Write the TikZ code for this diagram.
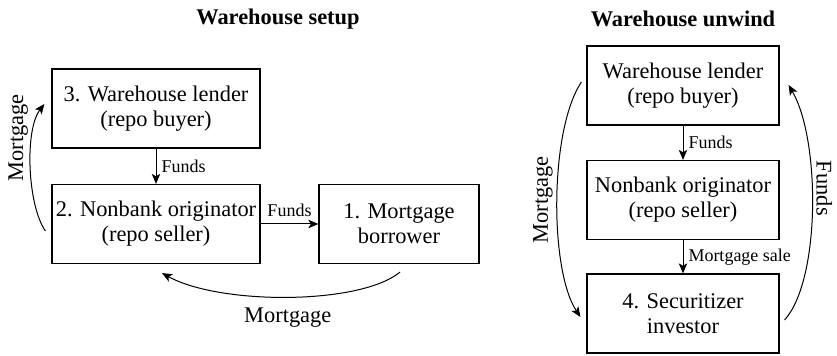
\documentclass[tikz,border=0pt]{standalone}
\usepackage{fontspec}
\setmainfont{Liberation Serif}
\usetikzlibrary{arrows.meta,calc}

\tikzset{
  box/.style={draw, line width=0.6pt, align=center, minimum height=39.5pt,
    inner sep=1.5pt, font=\fontsize{11.2}{12.5}\selectfont},
  flow/.style={-{Stealth[length=5pt,width=4.2pt,inset=1.2pt]}, line width=0.5pt},
  lbl/.style={font=\fontsize{9}{10.8}\selectfont, inner sep=2.5pt},
  biglbl/.style={font=\fontsize{11.2}{13}\selectfont, inner sep=2pt},
  ttl/.style={font=\fontsize{11.2}{13}\selectfont\bfseries},
}

\begin{document}
\begin{tikzpicture}[x=0.5pt,y=0.5pt]
\useasboundingbox (0,0) rectangle (837,-356);

% LEFT: warehouse setup
\node[ttl] (tsetup) at (278,-19) {Warehouse setup};
\node[box, minimum width=104pt] (lender) at (156,-108.5) {3. Warehouse lender\\(repo buyer)};
\node[box, minimum width=104pt] (orig) at (156,-224) {2. Nonbank originator\\(repo seller)};
\node[box, minimum width=80pt] (borrower) at (399,-224) {1. Mortgage\\borrower};

\draw[flow] (lender) -- node[lbl, right] {Funds} (orig);
\draw[flow] (orig) -- node[lbl, above=1pt] {Funds} (borrower);

% mortgage goes back from borrower to originator, then up to lender
\draw[flow] ($(borrower.south)+(1,-8)$)
  .. controls +(-40,-33) and +(58,-32) .. ($(orig.south)+(6,-9)$)
  node[biglbl, pos=0.5, below=3pt] {Mortgage};
\draw[flow] ($(orig.west)+(-6,-7)$)
  .. controls +(-18,26) and +(-20,-26) .. ($(lender.west)+(-7,4.5)$)
  node[biglbl, pos=0.7, anchor=south, rotate=90] {Mortgage};

% RIGHT: warehouse unwind
\node[ttl] (tunwind) at (683,-19) {Warehouse unwind};
\node[box, minimum width=96pt] (lender2) at (683,-85.5) {Warehouse lender\\(repo buyer)};
\node[box, minimum width=96pt] (orig2) at (683,-200) {Nonbank originator\\(repo seller)};
\node[box, minimum width=96pt] (investor) at (683,-313.5) {4. Securitizer\\investor};

\draw[flow] (lender2) -- node[lbl, right] {Funds} (orig2);
\draw[flow] (orig2) -- node[lbl, right] {Mortgage sale} (investor);

\draw[flow] ($(lender2.west)+(-5,3.5)$)
  .. controls +(-32,-48) and +(-31,47) .. ($(investor.west)+(-6,-3.5)$)
  node[biglbl, pos=0.5, anchor=south, rotate=90] {Mortgage};
\draw[flow] ($(investor.east)+(5,-6.5)$)
  .. controls +(36,40) and +(32,-55) .. ($(lender2.east)+(9,0.5)$)
  node[biglbl, pos=0.57, anchor=south, rotate=-90] {Funds};

\end{tikzpicture}
\end{document}
